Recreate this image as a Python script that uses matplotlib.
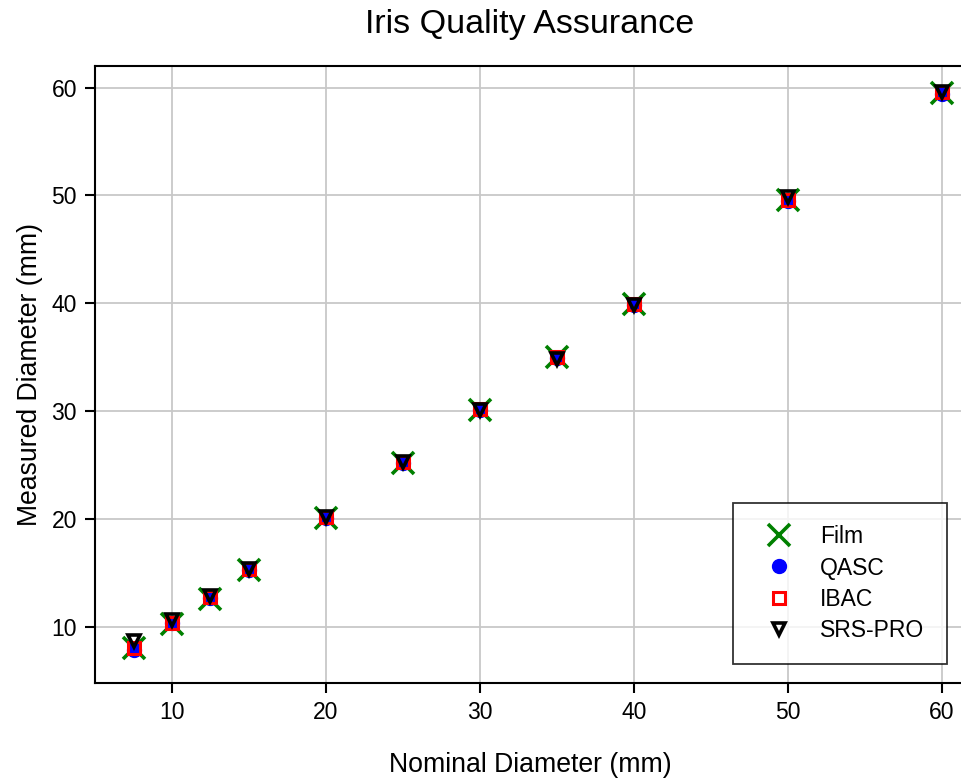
import matplotlib.pyplot as plt
import numpy as np

plt.rcParams['font.family'] = ['Liberation Sans', 'DejaVu Sans']

nominal = [7.5, 10, 12.5, 15, 20, 25, 30, 35, 40, 50, 60]
film = [8.0, 10.3, 12.6, 15.3, 20.1, 25.2, 30.1, 35.0, 39.9, 49.6, 59.5]
qasc = [7.9, 10.4, 12.7, 15.3, 20.1, 25.2, 30.1, 34.9, 39.8, 49.5, 59.4]
ibac = [8.0, 10.4, 12.8, 15.4, 20.2, 25.3, 30.2, 35.0, 39.9, 49.6, 59.6]
srs_pro = [8.7, 10.6, 12.9, 15.4, 20.2, 25.3, 30.1, 34.8, 39.8, 49.9, 59.6]

fig = plt.figure(figsize=(9.61, 7.8), dpi=100)
ax = fig.add_axes([0.0989, 0.1244, 0.905, 0.791])

ax.grid(True, color='#c8c8c8', linewidth=1.3, zorder=0)
ax.set_axisbelow(True)

ax.plot(nominal, film, linestyle='none', marker='x', markersize=16, markeredgewidth=2.6,
        color='green', label='Film', zorder=3)
ax.plot(nominal, qasc, linestyle='none', marker='o', markersize=10,
        color='blue', label='QASC', zorder=4)
ax.plot(nominal, ibac, linestyle='none', marker='s', markersize=8.5, markeredgewidth=2.2,
        markerfacecolor='none', markeredgecolor='red', label='IBAC', zorder=5)
ax.plot(nominal, srs_pro, linestyle='none', marker='v', markersize=8, markeredgewidth=2.6,
        markerfacecolor='none', markeredgecolor='black', label='SRS-PRO', zorder=6)

ax.set_xlim(5, 61.5)
ax.set_ylim(4.8, 62)
ax.set_xticks([10, 20, 30, 40, 50, 60])
ax.set_yticks([10, 20, 30, 40, 50, 60])
ax.tick_params(direction='out', length=7, width=1.5, labelsize=16.5, pad=6)
for s in ax.spines.values():
    s.set_linewidth(1.5)
ax.spines['right'].set_visible(False)

ax.set_title('Iris Quality Assurance', fontsize=24.5, pad=24)
ax.set_xlabel('Nominal Diameter (mm)', fontsize=19.2, labelpad=20)
ax.set_ylabel('Measured Diameter (mm)', fontsize=19.2, labelpad=6)

leg = ax.legend(loc='lower right', bbox_to_anchor=(0.98, 0.03), fontsize=16.5, frameon=True,
                fancybox=False, edgecolor='black', borderpad=1.0, labelspacing=0.35,
                handletextpad=0.8, borderaxespad=0)
leg.get_frame().set_linewidth(1.3)

fig.savefig('out.png', dpi=100)
